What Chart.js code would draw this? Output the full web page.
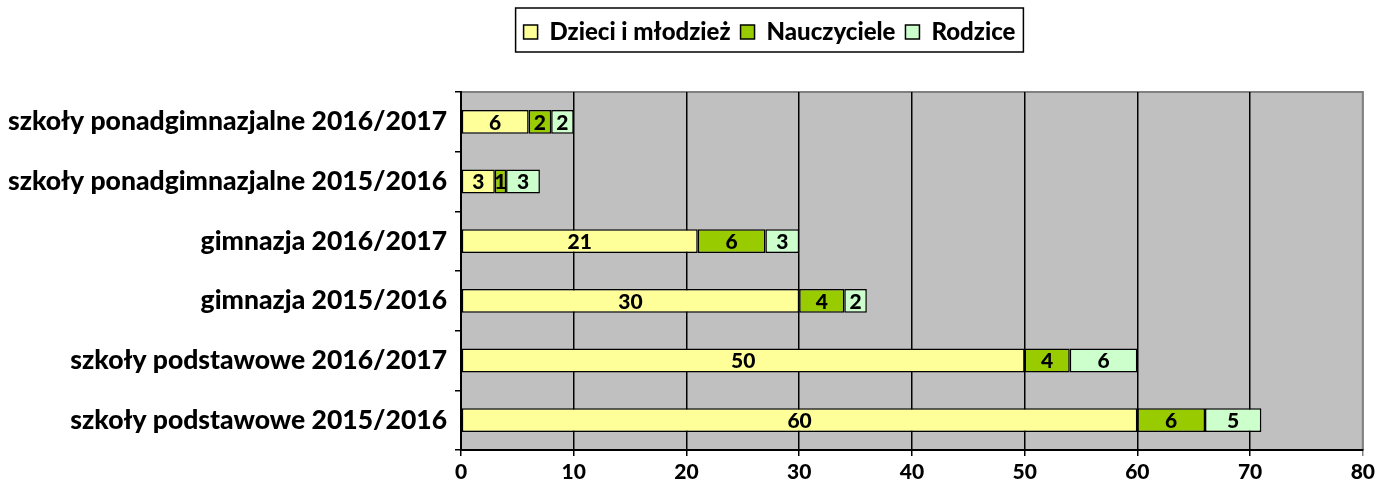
<!DOCTYPE html>
<html>
<head>
<meta charset="utf-8">
<script src="https://cdn.jsdelivr.net/npm/chart.js@4"></script>
<style>
  html, body { margin: 0; padding: 0; background: #fff; }
  #wrap { width: 1379px; height: 490px; position: relative; }
</style>
</head>
<body>
<div id="wrap"><canvas id="chart"></canvas></div>
<script>
const categories = [
  'szkoły ponadgimnazjalne 2016/2017',
  'szkoły ponadgimnazjalne 2015/2016',
  'gimnazja 2016/2017',
  'gimnazja 2015/2016',
  'szkoły podstawowe 2016/2017',
  'szkoły podstawowe 2015/2016'
];
const dzieci = [6, 3, 21, 30, 50, 60];
const nauczyciele = [2, 1, 6, 4, 4, 6];
const rodzice = [2, 3, 3, 2, 6, 5];
const xTicks = [0, 10, 20, 30, 40, 50, 60, 70, 80];

const FONT = 'Lato, Carlito, Calibri, sans-serif';

// gray plot area with gray top/right border
const plotBg = {
  id: 'plotBg',
  beforeDraw(chart) {
    const { ctx, chartArea: a } = chart;
    ctx.save();
    ctx.fillStyle = '#C0C0C0';
    ctx.fillRect(a.left, a.top, a.right - a.left, a.bottom - a.top);
    ctx.strokeStyle = '#808080';
    ctx.lineWidth = 2;
    ctx.beginPath();
    ctx.moveTo(a.left, a.top);
    ctx.lineTo(a.right, a.top);
    ctx.lineTo(a.right, a.bottom);
    ctx.stroke();
    ctx.restore();
  }
};

// value labels in the middle of each segment
const barLabels = {
  id: 'barLabels',
  afterDatasetsDraw(chart) {
    const ctx = chart.ctx;
    ctx.save();
    ctx.font = '900 21px ' + FONT;
    ctx.fillStyle = '#000';
    ctx.textAlign = 'center';
    ctx.textBaseline = 'middle';
    chart.data.datasets.forEach((ds, i) => {
      chart.getDatasetMeta(i).data.forEach((bar, j) => {
        ctx.fillText(String(ds.data[j]), (bar.x + bar.base) / 2, bar.y + 1);
      });
    });
    ctx.restore();
  }
};

// legend sits a bit right of the canvas centre in the original
const legendShift = {
  id: 'legendShift',
  afterLayout(chart) {
    const lg = chart.legend;
    lg.left += 87;
    lg.right += 87;
  }
};

// frame around the legend
const legendBox = {
  id: 'legendBox',
  afterDraw(chart) {
    const boxes = chart.legend.legendHitBoxes;
    if (!boxes || !boxes.length) return;
    const left = Math.min(...boxes.map(b => b.left)) - 8;
    const right = Math.max(...boxes.map(b => b.left + b.width)) + 8;
    const top = boxes[0].top - 12;
    const bottom = boxes[0].top + boxes[0].height + 8;
    const ctx = chart.ctx;
    ctx.save();
    ctx.strokeStyle = '#000';
    ctx.lineWidth = 1.5;
    ctx.strokeRect(left, top, right - left, bottom - top);
    ctx.restore();
  }
};

new Chart(document.getElementById('chart'), {
  type: 'bar',
  data: {
    labels: categories,
    datasets: [
      { label: 'Dzieci i młodzież', data: dzieci, backgroundColor: '#FFFF99' },
      { label: 'Nauczyciele', data: nauczyciele, backgroundColor: '#99CC00' },
      { label: 'Rodzice', data: rodzice, backgroundColor: '#CCFFCC' }
    ].map(d => Object.assign(d, {
      borderColor: '#000',
      borderWidth: 1.5,
      borderSkipped: false,
      barPercentage: 0.4,
      categoryPercentage: 1
    }))
  },
  options: {
    indexAxis: 'y',
    responsive: true,
    maintainAspectRatio: false,
    animation: false,
    layout: { padding: { top: 10, right: 14, bottom: 0, left: 0 } },
    plugins: {
      legend: {
        position: 'top',
        labels: {
          color: '#000',
          font: { family: FONT, size: 24, weight: '900' },
          boxWidth: 14,
          boxHeight: 14,
          padding: 10
        }
      },
      title: {
        display: true,
        text: ' ',
        position: 'top',
        weight: 500,
        font: { size: 10, lineHeight: 1 },
        padding: { top: 0, bottom: 28 }
      },
      tooltip: { enabled: false }
    },
    scales: {
      x: {
        stacked: true,
        min: 0,
        max: 80,
        afterBuildTicks(scale) {
          scale.ticks = xTicks.map(v => ({ value: v }));
        },
        afterFit(scale) { scale.height = 40; },
        grid: {
          color: ctx => (ctx.tick && ctx.tick.value === 80 ? '#808080' : '#000'),
          lineWidth: 1.5,
          tickLength: 6,
          drawTicks: true
        },
        border: { color: '#000', width: 2 },
        ticks: {
          color: '#000',
          padding: 4,
          font: { family: FONT, size: 21, weight: '900' }
        }
      },
      y: {
        stacked: true,
        afterFit(scale) { scale.width = 461; },
        grid: {
          drawOnChartArea: false,
          drawTicks: true,
          tickLength: 6,
          color: '#000',
          lineWidth: 1.5,
          offset: true
        },
        border: { color: '#000', width: 2 },
        ticks: {
          color: '#000',
          padding: 8,
          font: { family: FONT, size: 26.5, weight: '900' }
        }
      }
    }
  },
  plugins: [plotBg, barLabels, legendShift, legendBox]
});
</script>
</body>
</html>
